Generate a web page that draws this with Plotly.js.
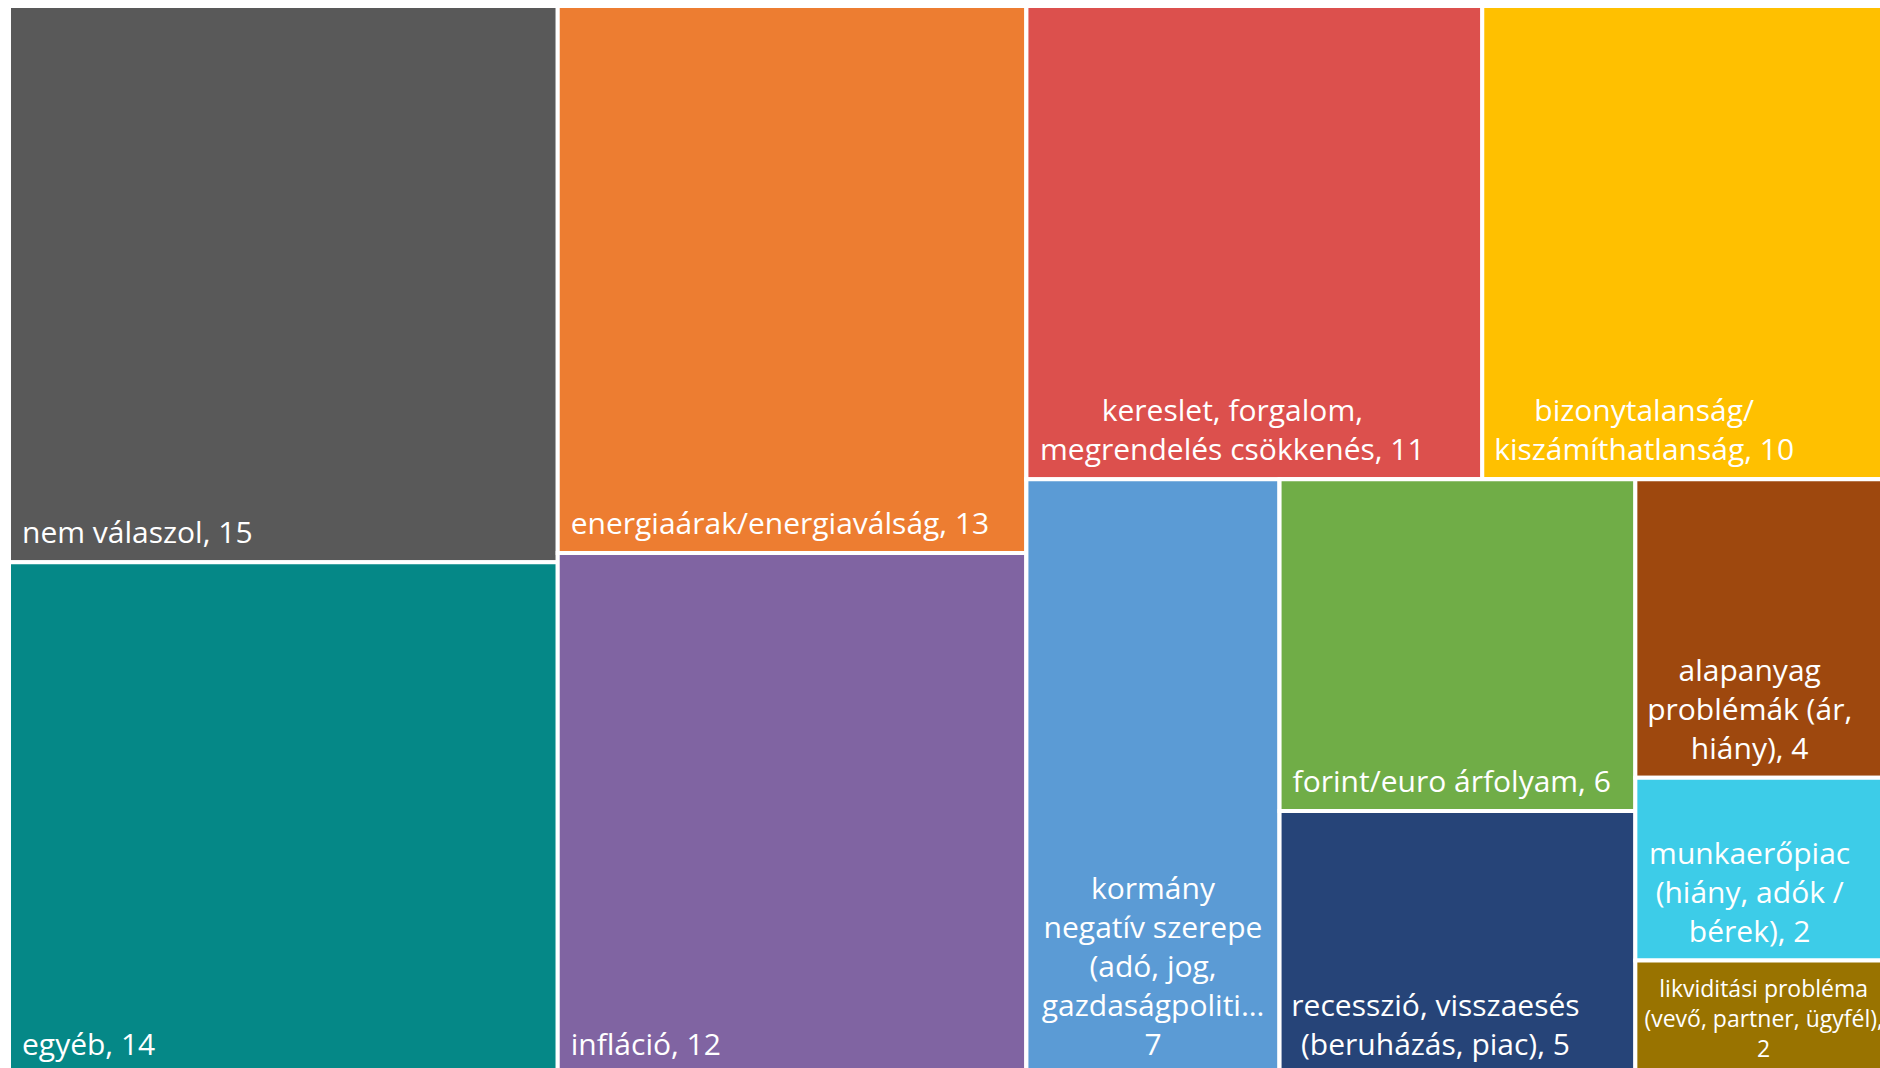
<!DOCTYPE html>
<html>
<head>
<meta charset="utf-8">
<script src="https://cdn.plot.ly/plotly-3.0.1.min.js"></script>
<style>
html, body { margin: 0; padding: 0; overflow: hidden; background: #ffffff; }
#chart { position: absolute; left: -80px; top: -20px; width: 2008px; height: 1094px; }
</style>
</head>
<body>
<div id="chart"></div>
<script>
// Categories (wrapped as in the reference)
const categories = [
  "nem válaszol",
  "egyéb",
  "energiaárak/energiaválság",
  "infláció",
  "kereslet, forgalom,<br>megrendelés csökkenés",
  "bizonytalanság/<br>kiszámíthatlanság",
  "kormány<br>negatív szerepe<br>(adó, jog,<br>gazdaságpoliti…",
  "forint/euro árfolyam",
  "recesszió, visszaesés<br>(beruházás, piac)",
  "alapanyag<br>problémák (ár,<br>hiány)",
  "munkaerőpiac<br>(hiány, adók /<br>bérek)",
  "likviditási probléma<br>(vevő, partner, ügyfél)"
];
// Values (estimated from tile areas; labels show them rounded)
const values = [15.0, 13.8, 12.6, 12.0, 10.6, 9.9, 7.4, 5.8, 4.6, 4.0, 2.45, 1.52];
const colors = [
  "#595959", "#058887", "#ED7D31", "#8064A2", "#DC504D", "#FFC000",
  "#5B9BD5", "#70AD47", "#264478", "#9E480E", "#3DCCE8", "#997300"
];
const labelSeparators = [", ", ", ", ", ", ", ", ", ", ", ", "<br>", ", ", ", ", ", ", ", ", ",<br>"];
const labelFontSizes = [30, 30, 30, 30, 30, 30, 30, 30, 30, 30, 30, 23];

// label placement: alignment and horizontal nudge in px
const labelAlign = ["left", "left", "left", "left", "center", "center", "center", "left", "center", "center", "center", "center"];
const labelNudge = [10, 10, 10, 10, -22, -51, 0, 10, -22, -22, -22, -8];

// Grouping structure (Excel-like layout): groups hold category indices
const structure = ["root", [
  ["A", [0, 1]],
  ["B", [2, 3]],
  ["C", [
    ["Ctop", [4, 5]],
    ["Cbot", [6, ["G", [7, 8]], ["H", [9, 10, 11]]]]
  ]]
]];

// page geometry (div shifted 80px left, 20px up)
const W = 2008, H = 1094;
const tileX0 = 89, tileX1 = 1988;
const tileDomY = [0, 1068 / H];
const dy = 7;

function buildTrace(mode, align, nudge) {
  const ids = [], parents = [], labels = [], vals = [], texts = [], templates = [], fills = [], sizes = [];
  function walk(node, parent) {
    if (typeof node === "number") {
      ids.push("leaf" + node);
      parents.push(parent);
      labels.push(categories[node].replace(/<br>/g, " "));
      vals.push(values[node]);
      const show = mode === "text" && labelAlign[node] === align && labelNudge[node] === nudge;
      texts.push(show ? categories[node] : "");
      templates.push(show ? "%{text}" + labelSeparators[node] + "%{value:.0f}" : "%{text}");
      fills.push(mode === "tiles" ? colors[node] : "rgba(0,0,0,0)");
      sizes.push(labelFontSizes[node]);
    } else {
      const name = node[0];
      ids.push(name);
      parents.push(parent);
      labels.push(name === "root" ? " " : name);
      vals.push(0);
      texts.push("");
      templates.push("%{text}");
      fills.push(mode === "tiles" ? "#ffffff" : "rgba(0,0,0,0)");
      sizes.push(30);
      node[1].forEach(ch => walk(ch, name));
    }
  }
  walk(structure, "");
  let domX = [tileX0 / W, tileX1 / W], domY = tileDomY;
  if (mode === "text") {
    domX = [(tileX0 + nudge) / W, (tileX1 + nudge) / W];
    domY = [tileDomY[0] + dy / H, tileDomY[1] + dy / H];
  }
  return {
    type: "treemap",
    ids: ids,
    parents: parents,
    labels: labels,
    values: vals,
    branchvalues: "remainder",
    sort: false,
    text: texts,
    texttemplate: templates,
    textposition: align === "center" ? "bottom center" : "bottom left",
    hoverinfo: "skip",
    domain: { x: domX, y: domY },
    tiling: { packing: "slice-dice", pad: 0 },
    pathbar: { visible: false },
    marker: {
      colors: fills,
      line: { color: "#ffffff", width: mode === "tiles" ? 4 : 0 },
      pad: { t: 0, l: 0, r: 0, b: 0 },
      depthfade: false
    },
    textfont: { family: "Open Sans, Noto Sans, sans-serif", size: sizes, color: "#ffffff" },
    insidetextfont: { family: "Open Sans, Noto Sans, sans-serif", size: sizes, color: "#ffffff" }
  };
}

// one transparent label layer per (alignment, nudge) combination
const traces = [buildTrace("tiles", "left", 0)];
const combos = [];
labelAlign.forEach((a, i) => {
  const key = a + "|" + labelNudge[i];
  if (combos.indexOf(key) < 0) combos.push(key);
});
combos.forEach(key => {
  const parts = key.split("|");
  traces.push(buildTrace("text", parts[0], Number(parts[1])));
});

const layout = {
  width: W,
  height: H,
  margin: { l: 0, r: 0, t: 0, b: 0, pad: 0 },
  paper_bgcolor: "#ffffff",
  showlegend: false
};

Plotly.newPlot("chart", traces, layout, { displayModeBar: false, staticPlot: true });
</script>
</body>
</html>
